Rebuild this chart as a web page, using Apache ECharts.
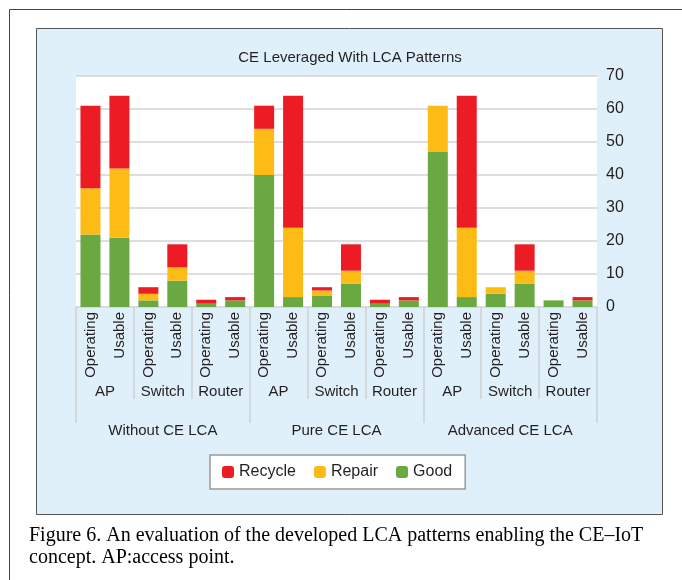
<!DOCTYPE html>
<html>
<head>
<meta charset="utf-8">
<script src="https://cdn.jsdelivr.net/npm/echarts@6/dist/echarts.min.js"></script>
<style>
    html, body { margin: 0; padding: 0; background: #fff; }
    #chartDiv { width: 682px; height: 580px; }
</style>
</head>
<body>
<div id="chartDiv"></div>
<script>
// 三级横轴的文字
var barLabels = ['Operating', 'Usable', 'Operating', 'Usable', 'Operating', 'Usable',
    'Operating', 'Usable', 'Operating', 'Usable', 'Operating', 'Usable',
    'Operating', 'Usable', 'Operating', 'Usable', 'Operating', 'Usable'];
var deviceLabels = ['AP', 'Switch', 'Router', 'AP', 'Switch', 'Router', 'AP', 'Switch', 'Router'];
var groupLabels = ['Without CE LCA', 'Pure CE LCA', 'Advanced CE LCA'];

// 堆叠数据 (从下往上: Good, Repair, Recycle)
var goodData = [22, 21, 2, 8, 1, 2, 40, 3, 3.5, 7, 1, 2, 47, 3, 4, 7, 2, 2];
var repairData = [14, 21, 2, 4, 0, 0, 14, 21, 1.5, 4, 0, 0, 14, 21, 2, 4, 0, 0];
var recycleData = [25, 22, 2, 7, 1.2, 1, 7, 40, 1, 8, 1.2, 1, 0, 40, 0, 8, 0, 1];

var legendNames = ['Recycle', 'Repair', 'Good'];
var captionLines = ['Figure 6. An evaluation of the developed LCA patterns enabling the CE\u2013IoT',
    'concept. AP:access point.'];

var colors = ['#ed1c24', '#fcbc15', '#6aa842'];
var textColor = '#231f20';
var sepColor = '#cfcfcf';
var font = 'Liberation Sans';

var myChart_1 = null;

var option = {
    animation: false,
    color: colors,
    title: {
        text: 'CE Leveraged With LCA Patterns',
        left: 345,
        textAlign: 'center',
        top: 45,
        textStyle: { fontFamily: font, fontSize: 15, fontWeight: 'normal', color: textColor }
    },
    graphic: [
        {
            type: 'rect', z: -10, silent: true,
            shape: { x: 9.5, y: 9.5, width: 700, height: 600 },
            style: { fill: '#fff', stroke: '#444', lineWidth: 1 }
        },
        {
            type: 'rect', z: -9, silent: true,
            shape: { x: 36.5, y: 28.5, width: 626, height: 486 },
            style: { fill: '#dff0fb', stroke: '#555', lineWidth: 1 }
        },
        {
            type: 'rect', z: -8, silent: true,
            shape: { x: 76, y: 76, width: 521, height: 231 },
            style: { fill: '#fff' }
        },
        {
            type: 'text', left: 29, top: 526,
            style: { text: captionLines[0], fontFamily: 'Liberation Serif', fontSize: 20, fill: '#000' }
        },
        {
            type: 'text', left: 29, top: 548,
            style: { text: captionLines[1], fontFamily: 'Liberation Serif', fontSize: 20, fill: '#000' }
        }
    ],
    legend: {
        data: legendNames,
        left: 210,
        top: 455,
        itemWidth: 12,
        itemHeight: 12,
        itemGap: 18,
        padding: [9, 13, 9, 12],
        backgroundColor: '#fff',
        borderColor: '#999',
        borderWidth: 1.5,
        textStyle: { fontFamily: font, fontSize: 16, color: textColor }
    },
    grid: {
        left: 76,
        right: 85,
        top: 76,
        bottom: 273,
        containLabel: false
    },
    xAxis: [
        {
            type: 'category',
            data: barLabels,
            position: 'bottom',
            axisLine: { show: false },
            axisTick: { show: false },
            axisLabel: {
                interval: 0,
                rotate: 90,
                margin: 5,
                fontFamily: font,
                fontSize: 15,
                color: textColor
            }
        },
        {
            type: 'category',
            data: deviceLabels,
            position: 'bottom',
            axisLine: { show: false },
            axisTick: { show: true, interval: 0, length: 92, lineStyle: { color: sepColor, width: 1.5 } },
            axisLabel: {
                interval: 0,
                margin: 77,
                fontFamily: font,
                fontSize: 15,
                color: textColor
            }
        },
        {
            type: 'category',
            data: groupLabels,
            position: 'bottom',
            axisLine: { show: false },
            axisTick: { show: true, interval: 0, length: 116, lineStyle: { color: sepColor, width: 1.5 } },
            axisLabel: {
                interval: 0,
                margin: 116,
                fontFamily: font,
                fontSize: 15,
                color: textColor
            }
        }
    ],
    yAxis: {
        type: 'value',
        position: 'right',
        min: 0,
        max: 70,
        interval: 10,
        axisLine: { show: false },
        axisTick: { show: false },
        splitLine: { show: true, lineStyle: { color: '#d3d3d3', width: 1.5 } },
        axisLabel: {
            margin: 9,
            fontFamily: font,
            fontSize: 16,
            color: textColor
        }
    },
    series: [
        {
            name: 'Good',
            type: 'bar',
            stack: 'total',
            xAxisIndex: 0,
            barWidth: 20,
            itemStyle: { color: colors[2] },
            data: goodData
        },
        {
            name: 'Repair',
            type: 'bar',
            stack: 'total',
            xAxisIndex: 0,
            barWidth: 20,
            itemStyle: { color: colors[1] },
            data: repairData
        },
        {
            name: 'Recycle',
            type: 'bar',
            stack: 'total',
            xAxisIndex: 0,
            barWidth: 20,
            itemStyle: { color: colors[0] },
            data: recycleData
        }
    ]
};

myChart_1 = echarts.init(document.getElementById('chartDiv'));
myChart_1.setOption(option);
</script>
</body>
</html>
